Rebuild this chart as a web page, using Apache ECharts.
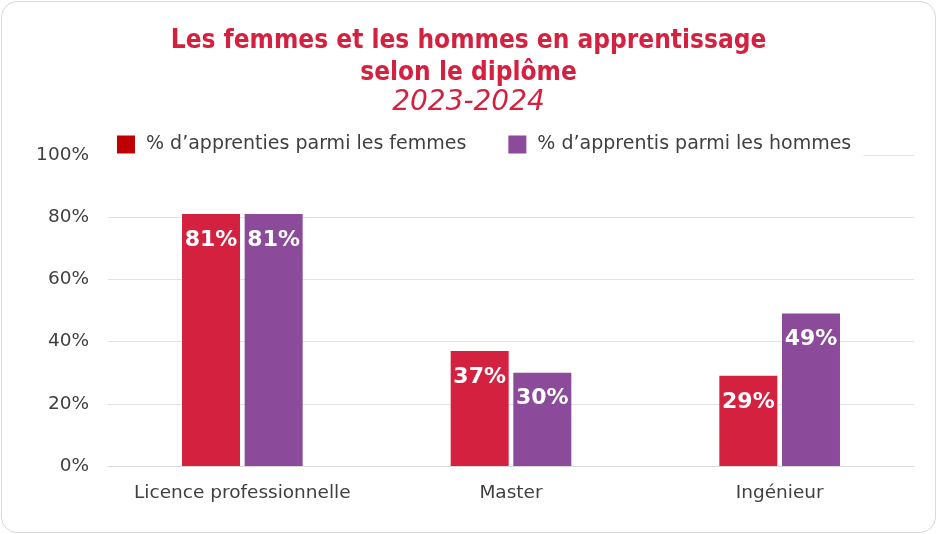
<!DOCTYPE html>
<html>
<head>
<meta charset="utf-8">
<script src="https://cdn.jsdelivr.net/npm/echarts@6/dist/echarts.min.js"></script>
<style>
  html, body { margin: 0; padding: 0; background: #fff; }
  #card {
    position: absolute; left: 1px; top: 1px; width: 933px; height: 530px;
    border: 1px solid #d9d9d9; border-radius: 16px; background: #fff; overflow: hidden;
  }
  #chart { width: 933px; height: 530px; }
</style>
</head>
<body>
<div id="card"><div id="chart"></div></div>
<script>
// categories and values
const categories = ['Licence professionnelle', 'Master', 'Ingénieur'];
const femmes = [81, 37, 29];
const hommes = [81, 30, 49];
const yTicks = [0, 20, 40, 60, 80, 100];

const red = '#D42140';
const purple = '#8B4A9A';
const txt = 'DejaVu Sans';

const chart = echarts.init(document.getElementById('chart'));

const labelStyle = {
  show: true,
  position: 'insideTop',
  distance: 15,
  color: '#fff',
  fontWeight: 'bold',
  fontSize: 22,
  fontFamily: 'DejaVu Sans',
  formatter: p => p.value + '%'
};

chart.setOption({
  animation: false,
  title: {
    text: 'Les femmes et les hommes en apprentissage\nselon le diplôme',
    subtext: '2023-2024',
    left: 'center',
    top: 18,
    itemGap: 0,
    textStyle: { color: red, fontSize: 26, fontWeight: 'bold', fontFamily: 'DejaVu Sans Condensed', lineHeight: 32 },
    subtextStyle: { color: red, fontSize: 28, fontStyle: 'italic', fontFamily: 'DejaVu Sans' }
  },
  legend: {
    top: 129,
    left: 103,
    icon: 'rect',
    itemWidth: 18,
    itemHeight: 18,
    itemGap: 42,
    backgroundColor: '#fff',
    padding: [4, 12],
    textStyle: { color: '#404040', fontSize: 19, fontFamily: txt, padding: [0, 0, 0, 6] },
    data: [
      { name: '% d’apprenties parmi les femmes', itemStyle: { color: '#C00000' } },
      { name: '% d’apprentis parmi les hommes', itemStyle: { color: purple } }
    ]
  },
  grid: { left: 106, right: 21, top: 153, bottom: 66, containLabel: false },
  xAxis: {
    type: 'category',
    data: categories,
    axisTick: { show: false },
    axisLine: { lineStyle: { color: '#d9d9d9', width: 1 } },
    axisLabel: { color: '#404040', fontSize: 18.5, fontFamily: txt, margin: 18, interval: 0 }
  },
  yAxis: {
    type: 'value',
    min: 0,
    max: 100,
    interval: 20,
    axisLabel: {
      color: '#404040', fontSize: 18.5, fontFamily: txt, margin: 19,
      formatter: v => yTicks.includes(v) ? v + '%' : ''
    },
    splitLine: { lineStyle: { color: '#e3e3e3', width: 1 } }
  },
  series: [
    {
      name: '% d’apprenties parmi les femmes',
      type: 'bar',
      data: femmes,
      barWidth: 58,
      barGap: '8%',
      itemStyle: { color: red },
      label: labelStyle
    },
    {
      name: '% d’apprentis parmi les hommes',
      type: 'bar',
      data: hommes,
      barWidth: 58,
      itemStyle: { color: purple },
      label: labelStyle
    }
  ]
});
</script>
</body>
</html>
